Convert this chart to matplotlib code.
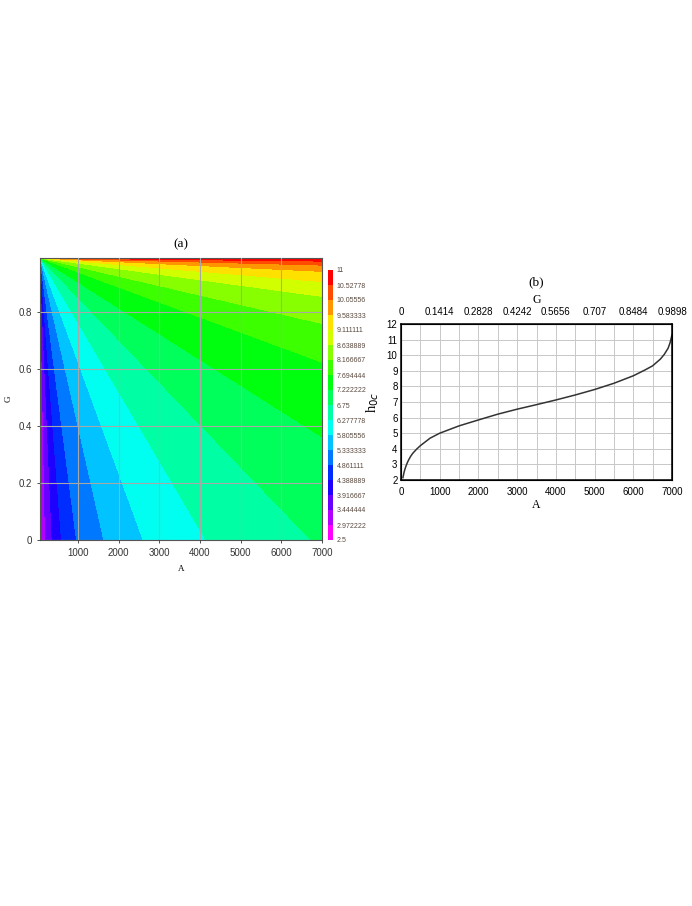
import matplotlib
matplotlib.use("Agg")
import matplotlib.pyplot as plt
import numpy as np
from matplotlib.colors import hsv_to_rgb

# contour levels (colorbar ticks) and their labels
levels = np.linspace(2.5, 11, 19)
level_labels = ["2.5", "2.972222", "3.444444", "3.916667", "4.388889", "4.861111",
                "5.333333", "5.805556", "6.277778", "6.75", "7.222222", "7.694444",
                "8.166667", "8.638889", "9.111111", "9.583333", "10.05556",
                "10.52778", "11"]

# panel (a) extent
A_min, A_max = 70, 7000
G_max = 0.9898

# where each level boundary meets the bottom edge (A, at G=0) ...
bottom_A = [90, 203, 368, 597, 966, 1639, 2606, 4150, 6730]      # levels 2.97 .. 6.75
# ... and the right edge (G, at A=7000)
right_G = [0.362, 0.624, 0.76, 0.855, 0.907, 0.943, 0.965, 0.979]  # levels 7.22 .. 10.53

# panel (b) curve h0c(A), G = A * 0.9898 / 7000
curve_A = [50, 65, 80, 100, 130, 165, 200, 250, 300, 400, 500, 750, 1000, 1500,
           2000, 2500, 3000, 3500, 4000, 4500, 5000, 5500, 6000, 6300, 6500,
           6700, 6800, 6900, 6950, 7000]
curve_h = [2.15, 2.33, 2.5, 2.68, 2.9, 3.12, 3.3, 3.52, 3.7, 3.97, 4.2, 4.68,
           5.0, 5.47, 5.85, 6.22, 6.54, 6.83, 7.13, 7.45, 7.8, 8.2, 8.68, 9.05,
           9.32, 9.75, 10.05, 10.45, 10.8, 11.3]
top_labels = ["0", "0.1414", "0.2828", "0.4242", "0.5656", "0.707", "0.8484", "0.9898"]

# rainbow colours, magenta (low) to red (high)
n_bands = len(levels) - 1
band_colors = [hsv_to_rgb((5 / 6 * (n_bands - 1 - i) / (n_bands - 1), 1, 1))
               for i in range(n_bands)]

# build the field: value depends on where the ray from the top-left corner
# hits the bottom / right edge
knot_p = [0] + [(a - A_min) / (A_max - A_min) for a in bottom_A] + \
         [1 + g / G_max for g in right_G] + [2]
knot_v = [2.5] + list(levels[1:10]) + list(levels[10:18]) + [11.0]

Ag, Gg = np.meshgrid(np.linspace(A_min, A_max, 700), np.linspace(0, G_max, 700))
dx = (Ag - A_min) / (A_max - A_min)
dy = (G_max - Gg) / G_max
eps = 1e-9
p = np.where(dx <= dy, dx / (dy + eps), 2 - dy / (dx + eps))
p = np.clip(p, 0, 2)
Z = np.interp(p, knot_p, knot_v)

plt.rcParams['font.family'] = ['Liberation Sans', 'DejaVu Sans']
fig = plt.figure(figsize=(6.92, 9.06), dpi=100)

# ---- panel (a)
ax1 = fig.add_axes([40 / 692, 1 - 540 / 906, 282 / 692, 282 / 906])
cf = ax1.contourf(Ag, Gg, Z, levels=levels, colors=band_colors)
ax1.set_axisbelow(False)
ax1.set_xlim(A_min, A_max)
ax1.set_ylim(0, G_max)
ax1.set_xticks([1000, 2000, 3000, 4000, 5000, 6000, 7000])
ax1.set_yticks([0, 0.2, 0.4, 0.6, 0.8])
ax1.set_yticklabels(["0", "0.2", "0.4", "0.6", "0.8"])
ax1.grid(True, color='#a8a8a8', linewidth=0.8)
ax1.tick_params(labelsize=7, length=2.5, width=0.6, pad=3.5, colors='#333333')
for s in ax1.spines.values():
    s.set_color('#555555')
    s.set_linewidth(0.8)
ax1.set_xlabel("A", family='Liberation Serif', fontsize=6.5, labelpad=5)
ax1.set_ylabel("G", family='Liberation Serif', fontsize=6.5, labelpad=4)
ax1.set_title("(a)", family='Liberation Serif', fontsize=9.5, pad=8)

cax = fig.add_axes([328 / 692, 1 - 540 / 906, 5 / 692, 270 / 906])
cb = fig.colorbar(cf, cax=cax, ticks=levels)
cb.ax.set_yticklabels(level_labels)
cb.ax.tick_params(labelsize=5, length=0, pad=2.5, colors='#5a4a40')
cb.outline.set_visible(False)

# ---- panel (b)
ax2 = fig.add_axes([401 / 692, 1 - 480 / 906, 271 / 692, 156 / 906])
ax2.plot(curve_A, curve_h, color='#333333', linewidth=1.1)
ax2.set_xlim(0, 7000)
ax2.set_ylim(2, 12)
ax2.set_xticks(np.arange(0, 7001, 500), minor=True)
ax2.set_xticks(np.arange(0, 7001, 1000))
ax2.set_yticks(np.arange(2, 13, 1))
ax2.grid(True, which='both', color='#c8c8c8', linewidth=0.7)
ax2.tick_params(which='both', length=0, labelsize=7)
ax2.tick_params(axis='x', pad=5)
ax2.tick_params(axis='y', pad=2.5)
for s in ax2.spines.values():
    s.set_linewidth(1.1)
ax2.set_xlabel("A", family='Liberation Serif', fontsize=8.5, labelpad=1.5)
ax2.set_ylabel("h$_{0c}$", family='Liberation Serif', fontsize=10.5, labelpad=4)

top = ax2.twiny()
top.set_xlim(0, 7000)
top.set_xticks(np.arange(0, 7001, 1000))
top.set_xticklabels(top_labels)
top.tick_params(length=0, labelsize=7, pad=5)
top.set_xlabel("G", family='Liberation Serif', fontsize=8.5, labelpad=3)
top.set_title("(b)", family='Liberation Serif', fontsize=9.5, pad=6)

fig.savefig("out.png", dpi=100)
